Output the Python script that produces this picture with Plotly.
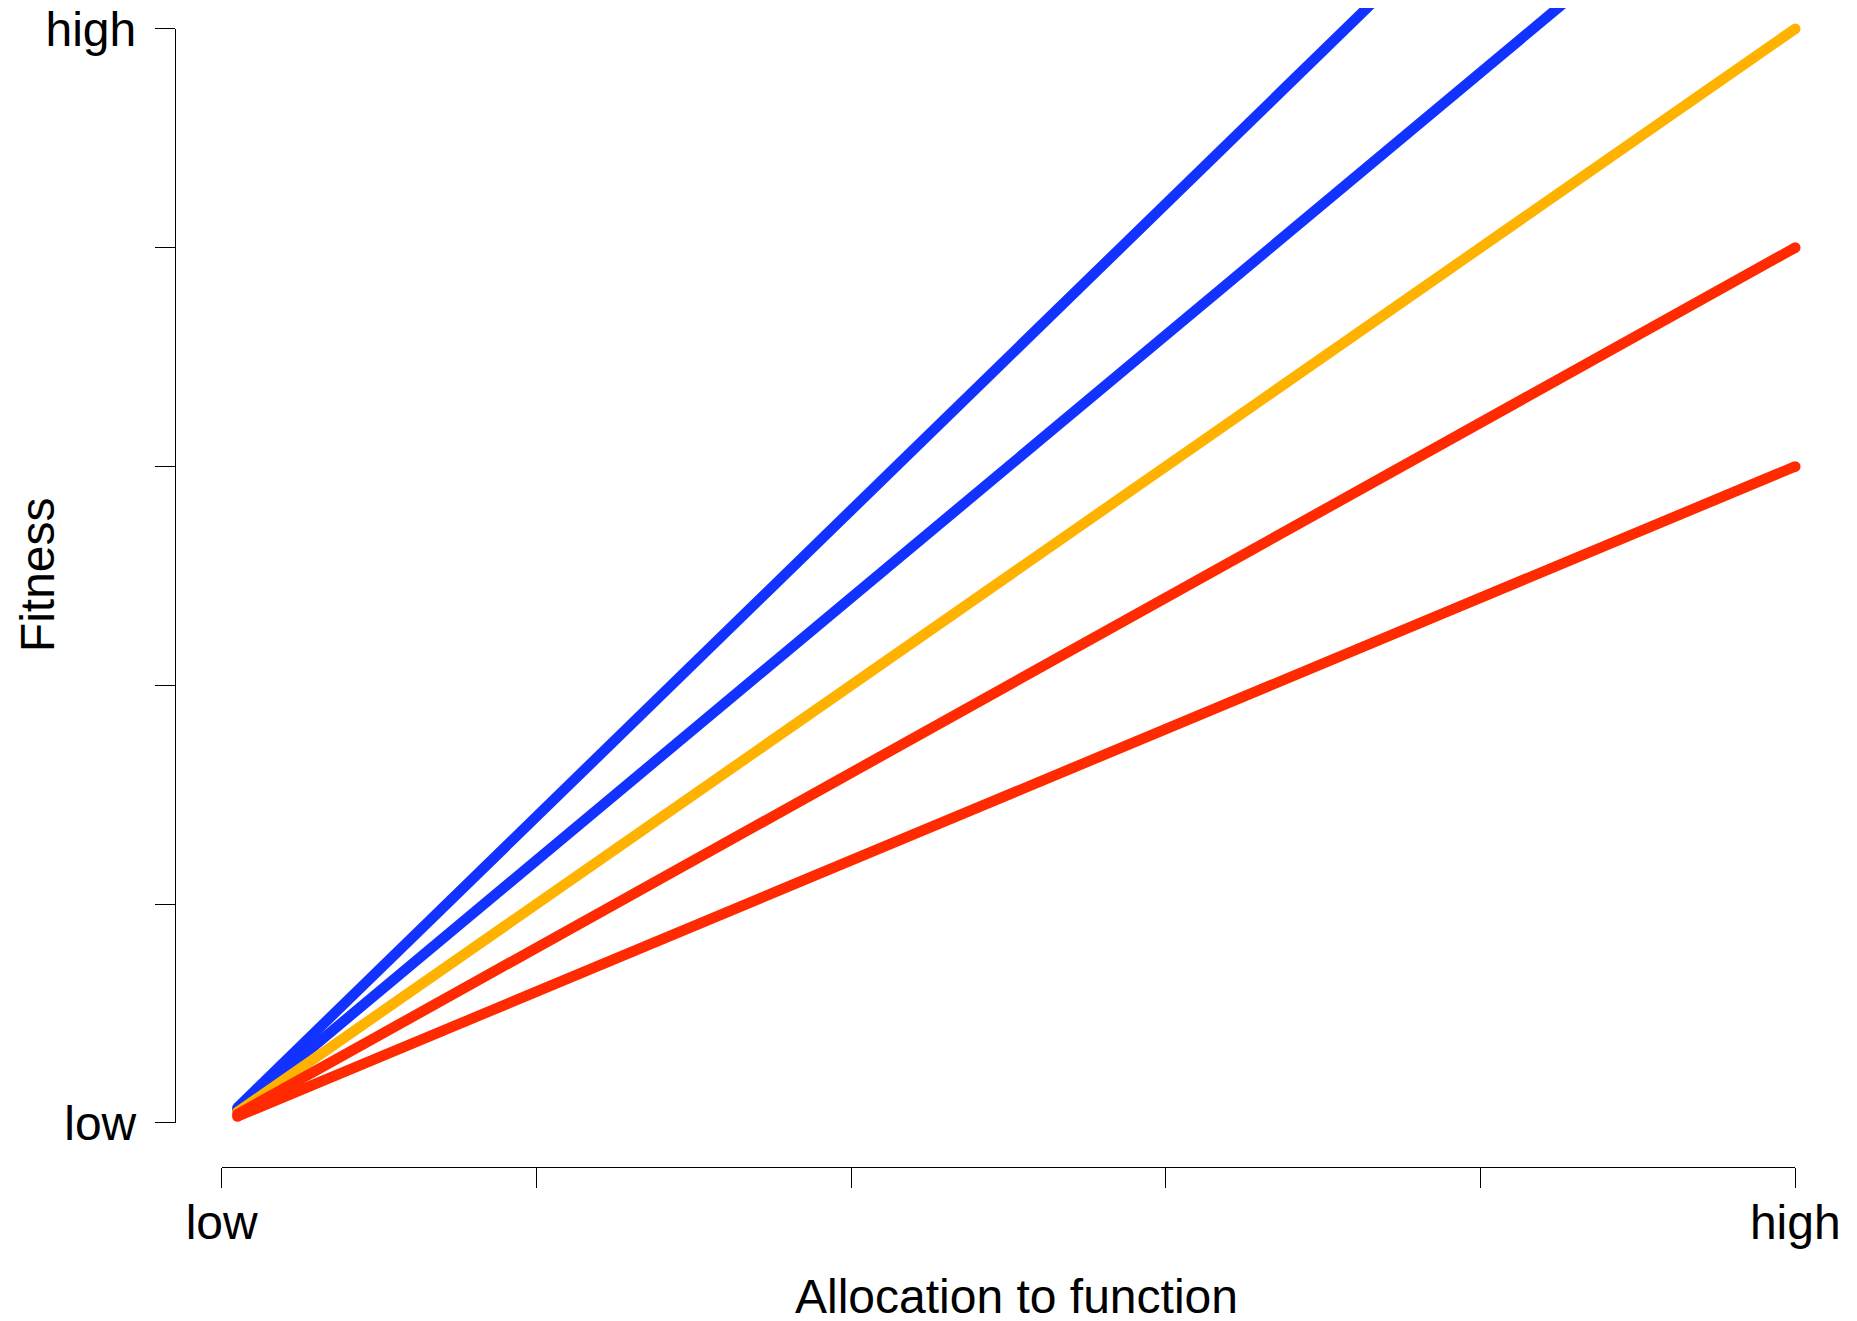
import plotly.graph_objects as go

# data
x_vals = [0.01, 1.0]
blue_steep = [0.014, 1.4]
blue_mid = [0.012, 1.2]
yellow_line = [0.010, 1.0]
red_mid = [0.008, 0.8]
red_low = [0.006, 0.6]

tick_vals = [0, 0.2, 0.4, 0.6, 0.8, 1.0]
tick_text = ["low", "", "", "", "", "high"]

BLUE = "#1232FF"
YELLOW = "#FFB300"
RED = "#FF2A00"
LW = 10.5

series = [
    (blue_steep, BLUE),
    (blue_mid, BLUE),
    (yellow_line, YELLOW),
    (red_mid, RED),
    (red_low, RED),
]

# page offset (body margin) of the rendered figure
OFF = 8
W, H = 1857 - OFF, 1321 - OFF

def px(v):
    return v - OFF

ml, mr, mt, mb = px(175), 0, 0, H - px(1166.7)
plot_w = W - ml - mr
plot_h = H - mt - mb

# pixel positions of data 0 and 1 (figure coordinates)
x0_px, x1_px = px(221.7), px(1795.3)
y0_px, y1_px = px(1122.7), px(28.7)
xs = (x1_px - x0_px)
ys_ = (y0_px - y1_px)
x_lo = -(x0_px - ml) / xs
x_hi = x_lo + plot_w / xs
y_hi = 1 + (y1_px - mt) / ys_
y_lo = y_hi - plot_h / ys_

FONT = "Liberation Sans, Arial, Helvetica, sans-serif"
FS = 48

fig = go.Figure()

# invisible trace to activate the axis-drawing subplot
fig.add_trace(go.Scatter(x=[0, 1], y=[0, 1], xaxis="x2", yaxis="y2",
                         mode="markers", marker=dict(opacity=0),
                         showlegend=False, hoverinfo="skip"))

for ys, col in series:
    fig.add_trace(go.Scatter(
        x=x_vals, y=ys, mode="lines+markers",
        line=dict(color=col, width=LW),
        marker=dict(color=col, size=LW, line=dict(width=0)),
        showlegend=False, hoverinfo="skip", cliponaxis=True,
    ))

fig.update_layout(
    template="none",
    width=W, height=H,
    margin=dict(l=ml, r=mr, t=mt, b=mb, pad=0, autoexpand=False),
    plot_bgcolor="rgba(0,0,0,0)", paper_bgcolor="white",
    font=dict(family=FONT, size=FS, color="black"),
    xaxis=dict(range=[x_lo, x_hi], visible=False, domain=[0, 1], anchor="y",
               automargin=False),
    yaxis=dict(range=[y_lo, y_hi], visible=False, domain=[0, 1], anchor="x",
               automargin=False),
    xaxis2=dict(
        anchor="free", position=0, automargin=False,
        domain=[(x0_px - ml) / plot_w, (x1_px - ml) / plot_w],
        range=[0, 1], showline=True, linecolor="black", linewidth=1.3,
        ticks="outside", ticklen=20, tickwidth=1.3, tickcolor="black",
        tickvals=tick_vals, ticktext=tick_text, showgrid=False, zeroline=False,
        tickfont=dict(family=FONT, size=FS, color="black"),
        ticklabelstandoff=-7, ticklabeloverflow="allow",
    ),
    yaxis2=dict(
        anchor="free", position=0, automargin=False,
        domain=[(H - mb - y0_px) / plot_h, (H - mb - y1_px) / plot_h],
        range=[0, 1], showline=True, linecolor="black", linewidth=1.3,
        ticks="outside", ticklen=20, tickwidth=1.3, tickcolor="black",
        tickvals=tick_vals, ticktext=tick_text, showgrid=False, zeroline=False,
        tickfont=dict(family=FONT, size=FS, color="black"),
        ticklabelstandoff=9, ticklabeloverflow="allow",
    ),
)

fig.add_annotation(text="Allocation to function", xref="paper", yref="paper",
                   x=(px(1016) - ml) / plot_w, y=(H - mb - px(1296)) / plot_h,
                   xanchor="center", yanchor="middle", showarrow=False,
                   font=dict(family=FONT, size=FS, color="black"))
fig.add_annotation(text="Fitness", xref="paper", yref="paper",
                   x=(px(37) - ml) / plot_w, y=(H - mb - px(575)) / plot_h,
                   xanchor="center", yanchor="middle", textangle=-90,
                   showarrow=False,
                   font=dict(family=FONT, size=FS, color="black"))

fig.write_html("out.html")
